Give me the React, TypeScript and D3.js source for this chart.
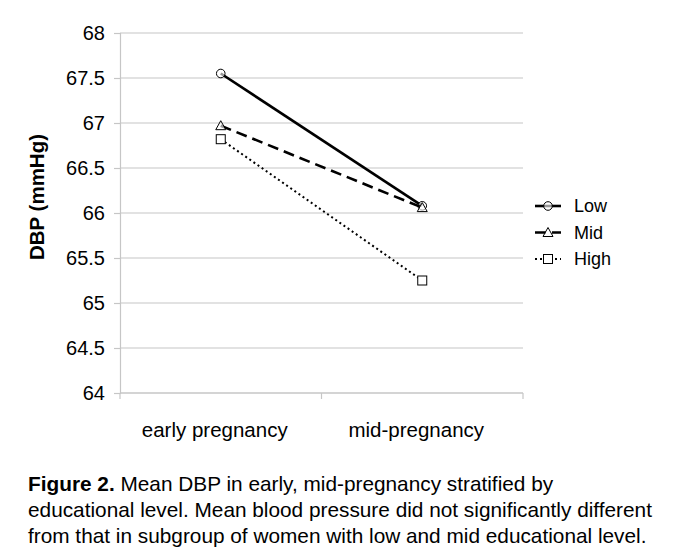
import React from "react";
import * as d3 from "d3";

const categories = ["early pregnancy", "mid-pregnancy"];
const seriesNames = ["Low", "Mid", "High"];
const lowValues = [67.55, 66.08];
const midValues = [66.97, 66.06];
const highValues = [66.82, 65.25];
const yTicks = [64, 64.5, 65, 65.5, 66, 66.5, 67, 67.5, 68];
const captionLines = [
  "Mean DBP in early, mid-pregnancy stratified by",
  "educational level. Mean blood pressure did not significantly different",
  "from that in subgroup of women with low and mid educational level.",
];

const font = "Arial, 'Liberation Sans', Helvetica, sans-serif";

const App = () => {
  const svgRef = React.useRef<SVGSVGElement>(null);
  const width = 685;
  const height = 549;
  const margin = { left: 120, top: 33, right: 162, bottom: 156 };
  const plotW = width - margin.left - margin.right;
  const plotH = height - margin.top - margin.bottom;

  React.useEffect(() => {
    const svgEl = d3.select(svgRef.current);
    svgEl.selectAll("*").remove();

    const x = d3.scaleBand<string>().domain(categories).range([0, plotW]);
    const y = d3.scaleLinear().domain([64, 68]).range([plotH, 0]);

    const svg = svgEl.append("g").attr("transform", `translate(${margin.left},${margin.top})`);

    // grid lines
    svg.append("g")
      .selectAll("line")
      .data(yTicks)
      .join("line")
      .attr("x1", 0)
      .attr("x2", plotW)
      .attr("y1", (d) => y(d))
      .attr("y2", (d) => y(d))
      .attr("stroke", "#c6c6c6")
      .attr("stroke-width", 1.2);

    // y axis
    const yAxis = d3.axisLeft(y).tickValues(yTicks).tickSize(6).tickPadding(9).tickFormat((v) => `${v}`);
    const yg = svg.append("g").call(yAxis);
    yg.selectAll("line, path").attr("stroke", "#c6c6c6").attr("stroke-width", 1.2);
    yg.selectAll("text").attr("font-family", font).attr("font-size", 20).attr("fill", "#000");

    // x axis
    const xg = svg.append("g").attr("transform", `translate(0,${plotH})`);
    xg.append("line").attr("x1", 0).attr("x2", plotW).attr("stroke", "#c6c6c6").attr("stroke-width", 1.2);
    const boundaries = [0, ...categories.map((c) => (x(c) as number) + x.bandwidth())];
    xg.selectAll(".tk")
      .data(boundaries)
      .join("line")
      .attr("x1", (d) => d)
      .attr("x2", (d) => d)
      .attr("y1", 0)
      .attr("y2", 6)
      .attr("stroke", "#c6c6c6")
      .attr("stroke-width", 1.2);
    xg.selectAll("text")
      .data(categories)
      .join("text")
      .attr("x", (d) => (x(d) as number) + x.bandwidth() / 2 - 6)
      .attr("y", 44)
      .attr("text-anchor", "middle")
      .attr("font-family", font)
      .attr("font-size", 20.5)
      .text((d) => d);

    // y label
    svg.append("text")
      .attr("transform", `translate(${37 - margin.left},${y(66) - 16}) rotate(-90)`)
      .attr("text-anchor", "middle")
      .attr("dy", "0.35em")
      .attr("font-family", font)
      .attr("font-weight", "bold")
      .attr("font-size", 20.5)
      .text("DBP (mmHg)");

    const series = [
      { name: seriesNames[0], values: lowValues, dash: null, width: 2.6, marker: "circle" },
      { name: seriesNames[1], values: midValues, dash: "11,6", width: 2.6, marker: "triangle" },
      { name: seriesNames[2], values: highValues, dash: "2,3", width: 2, marker: "square" },
    ];

    const cx = (i: number) => (x(categories[i]) as number) + x.bandwidth() / 2;
    const line = d3.line<number>().x((_, i) => cx(i)).y((d) => y(d));

    const drawMarker = (g: any, type: string, px: number, py: number) => {
      if (type === "circle") {
        g.append("circle").attr("cx", px).attr("cy", py).attr("r", 4.3)
          .attr("fill", "white").attr("fill-opacity", 0.6).attr("stroke", "#000").attr("stroke-width", 1);
      } else if (type === "triangle") {
        const s = 5;
        g.append("path")
          .attr("d", `M${px},${py - s}L${px + s},${py + s * 0.8}L${px - s},${py + s * 0.8}Z`)
          .attr("fill", "white").attr("fill-opacity", 0.6).attr("stroke", "#000").attr("stroke-width", 1);
      } else {
        g.append("rect").attr("x", px - 4.5).attr("y", py - 4.5).attr("width", 9).attr("height", 9)
          .attr("fill", "white").attr("stroke", "#000").attr("stroke-width", 1);
      }
    };

    series.forEach((s) => {
      const g = svg.append("g");
      g.append("path")
        .attr("d", line(s.values))
        .attr("fill", "none")
        .attr("stroke", "#000")
        .attr("stroke-width", s.width)
        .attr("stroke-dasharray", s.dash);
      s.values.forEach((v, i) => drawMarker(g, s.marker, cx(i), y(v)));
    });

    // legend
    const legend = svgEl.append("g").attr("transform", "translate(535,206)");
    series.forEach((s, i) => {
      const g = legend.append("g").attr("transform", `translate(0,${i * 26.5})`);
      g.append("line").attr("x1", 0).attr("x2", 26).attr("y1", 0).attr("y2", 0)
        .attr("stroke", "#000").attr("stroke-width", s.width).attr("stroke-dasharray", s.dash);
      drawMarker(g, s.marker, 13, 0);
      g.append("text").attr("x", 39).attr("dy", "0.36em")
        .attr("font-family", font).attr("font-size", 18).text(s.name);
    });

    // caption
    const cap = svgEl.append("text").attr("font-family", font).attr("font-size", 20.8).attr("fill", "#000");
    captionLines.forEach((l, i) => {
      const t = cap.append("tspan").attr("x", 28).attr("y", 491 + i * 26);
      if (i === 0) {
        t.append("tspan").attr("font-weight", "bold").text("Figure 2.");
        t.append("tspan").text(" " + l);
      } else {
        t.text(l);
      }
    });
  }, []);

  return (
    <svg
      ref={svgRef}
      width={width}
      height={height}
      style={{ position: "absolute", left: 0, top: 0, background: "white" }}
    />
  );
};

export default App;
